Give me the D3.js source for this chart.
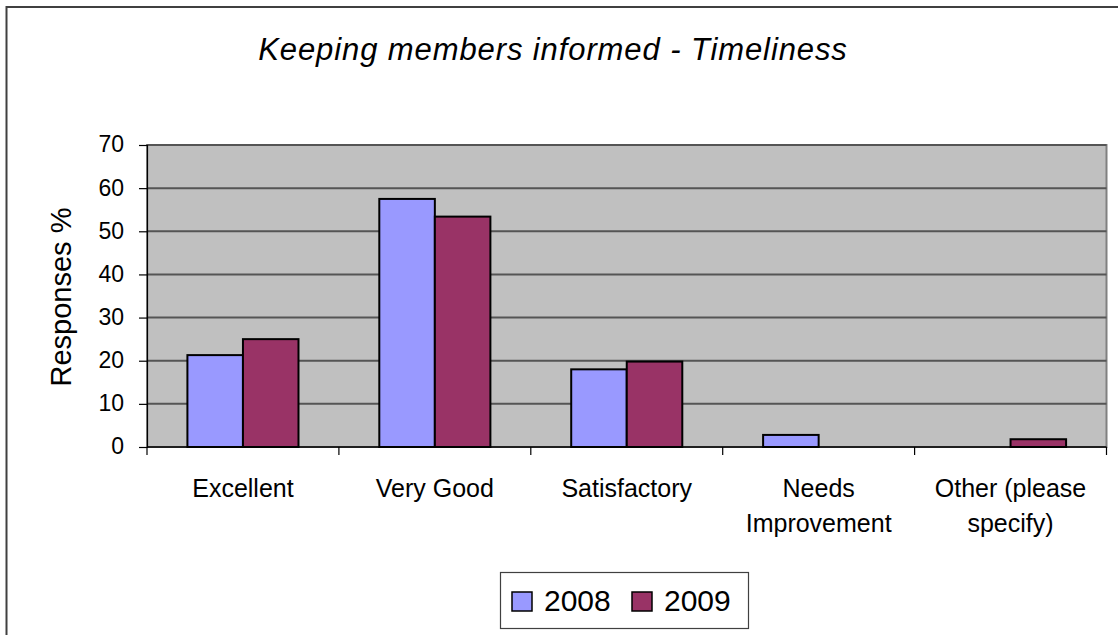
<!DOCTYPE html>
<html><head><meta charset="utf-8">
<script src="https://cdn.jsdelivr.net/npm/d3@7"></script>
<style>body{margin:0;background:#fff;} svg{display:block;}</style>
</head><body>
<svg id="c" width="1118" height="635"></svg>
<script>
const categories = [["Excellent"], ["Very Good"], ["Satisfactory"], ["Needs", "Improvement"], ["Other (please", "specify)"]];
const seriesNames = ["2008", "2009"];
const values2008 = [21.3, 57.5, 18.0, 2.8, 0];
const values2009 = [25.0, 53.4, 19.8, 0, 1.8];
const yTicks = [0, 10, 20, 30, 40, 50, 60, 70];
const colors = ["#9999FF", "#993366"];
const font = "'Liberation Sans', Arial, sans-serif";

const svg = d3.select("#c");
// outer frame
svg.append("rect").attr("x", 6.5).attr("y", 7).attr("width", 1130).attr("height", 650)
  .attr("fill", "#fff").attr("stroke", "#404040").attr("stroke-width", 2);

const L = 147, R = 1106.5, T = 145, B = 447;
const x0 = d3.scaleBand().domain(d3.range(categories.length)).range([L, R]).paddingInner(0).paddingOuter(0);
const x1 = d3.scaleBand().domain(seriesNames).range([0, x0.bandwidth()]).paddingInner(0).paddingOuter(0.7275);
const y = d3.scaleLinear().domain([0, 70]).range([B, T]);

svg.append("rect").attr("x", L).attr("y", T).attr("width", R - L).attr("height", B - T)
  .attr("fill", "#C0C0C0").attr("stroke", "#808080").attr("stroke-width", 2);

// gridlines
svg.append("g").selectAll("line").data(yTicks.filter(d => d > 0)).join("line")
  .attr("x1", L).attr("x2", R).attr("y1", d => y(d)).attr("y2", d => y(d))
  .attr("stroke", "#555").attr("stroke-width", 2);

// bars
const data = categories.map((c, i) => ({i, vals: [values2008[i], values2009[i]]}));
const g = svg.append("g").selectAll("g").data(data).join("g")
  .attr("transform", d => `translate(${x0(d.i)},0)`);
g.selectAll("rect").data(d => d.vals.map((v, k) => ({v, k}))).join("rect")
  .filter(d => d.v > 0)
  .attr("x", d => x1(seriesNames[d.k])).attr("width", x1.bandwidth())
  .attr("y", d => y(d.v)).attr("height", d => y(0) - y(d.v))
  .attr("fill", d => colors[d.k]).attr("stroke", "#000").attr("stroke-width", 2);

// y axis
const yAxis = d3.axisLeft(y).tickValues(yTicks).tickSize(8).tickPadding(15);
const ya = svg.append("g").attr("transform", `translate(${L},0)`).call(yAxis);
ya.select(".domain").attr("stroke", "#000").attr("stroke-width", 1.2);
ya.selectAll(".tick line").attr("stroke", "#000").attr("stroke-width", 1.2);
ya.selectAll(".tick text").attr("font-family", font).attr("font-size", 23).attr("fill", "#000").attr("dy", "0.3em");

// x axis
svg.append("line").attr("x1", L).attr("x2", R).attr("y1", B).attr("y2", B).attr("stroke", "#000").attr("stroke-width", 1.5);
const bounds = d3.range(categories.length + 1).map(i => L + i * x0.bandwidth());
svg.append("g").selectAll("line").data(bounds).join("line")
  .attr("x1", d => d).attr("x2", d => d).attr("y1", B).attr("y2", B + 8)
  .attr("stroke", "#000").attr("stroke-width", 1.2);

const xl = svg.append("g").selectAll("text").data(categories.map((c, i) => ({c, i}))).join("text")
  .attr("text-anchor", "middle").attr("font-family", font).attr("font-size", 25).attr("fill", "#000")
  .attr("x", d => x0(d.i) + x0.bandwidth() / 2).attr("y", 497);
xl.selectAll("tspan").data(d => d.c).join("tspan")
  .attr("x", function() { return d3.select(this.parentNode).attr("x"); })
  .attr("dy", (d, k) => k === 0 ? 0 : 35).text(d => d);

// y label
svg.append("text").attr("transform", "translate(71,297) rotate(-90)")
  .attr("text-anchor", "middle").attr("font-family", font).attr("font-size", 29).attr("fill", "#000")
  .text("Responses %");

// title
svg.append("text").attr("x", 553).attr("y", 60).attr("text-anchor", "middle")
  .attr("font-family", font).attr("font-size", 31).attr("font-style", "italic").attr("letter-spacing", 0.9).attr("fill", "#000")
  .text("Keeping members informed - Timeliness");

// legend
svg.append("rect").attr("x", 500.5).attr("y", 572.5).attr("width", 248).attr("height", 56)
  .attr("fill", "#fff").attr("stroke", "#404040").attr("stroke-width", 1.2);
const lx = [512, 632];
seriesNames.forEach((s, k) => {
  svg.append("rect").attr("x", lx[k]).attr("y", 592).attr("width", 20).attr("height", 19)
    .attr("fill", colors[k]).attr("stroke", "#000").attr("stroke-width", 1.5);
  svg.append("text").attr("x", lx[k] + 32).attr("y", 611).attr("font-family", font)
    .attr("font-size", 30).attr("fill", "#000").text(s);
});
</script>
</body></html>
